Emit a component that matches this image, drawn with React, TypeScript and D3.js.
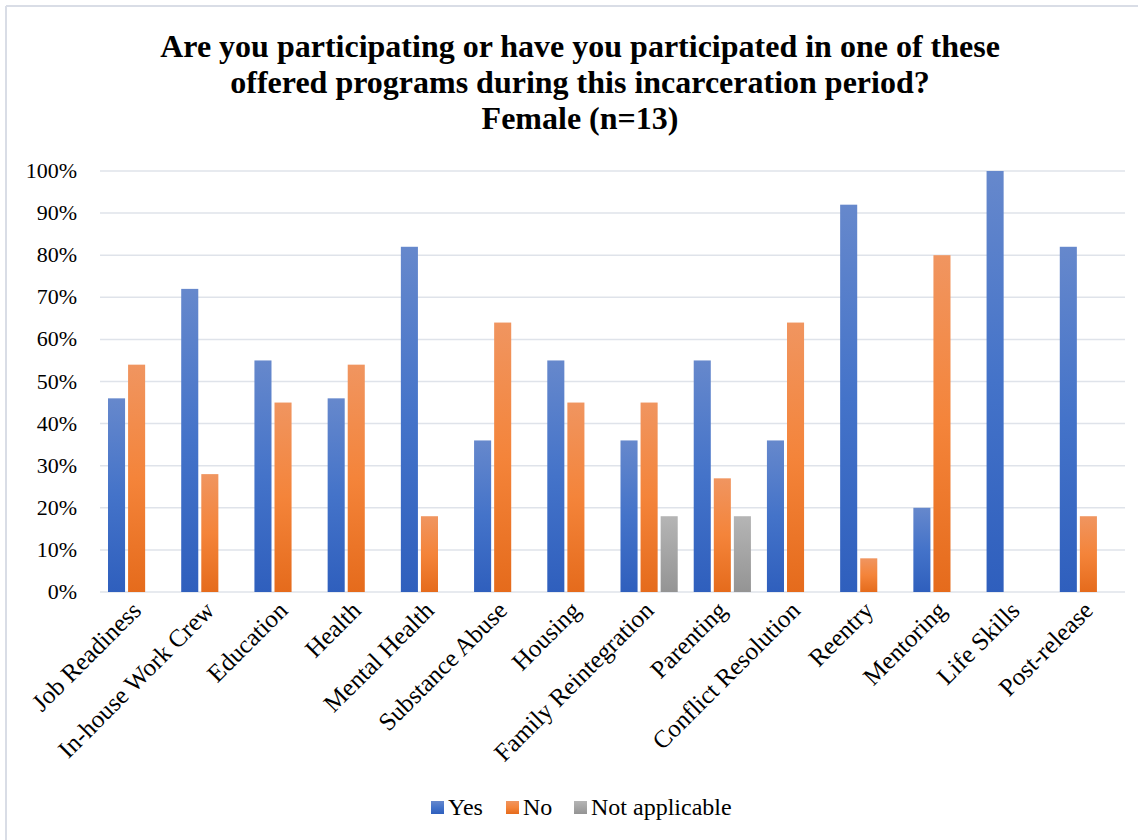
import React from "react";
import * as d3 from "d3";

const categories = [
  "Job Readiness",
  "In-house Work Crew",
  "Education",
  "Health",
  "Mental Health",
  "Substance Abuse",
  "Housing",
  "Family Reintegration",
  "Parenting",
  "Conflict Resolution",
  "Reentry",
  "Mentoring",
  "Life Skills",
  "Post-release",
];
const yesValues = [46, 72, 55, 46, 82, 36, 55, 36, 55, 36, 92, 20, 100, 82];
const noValues = [54, 28, 45, 54, 18, 64, 45, 45, 27, 64, 8, 80, 0, 18];
const naValues = [null, null, null, null, null, null, null, 18, 18, null, null, null, null, null];
const seriesNames = ["Yes", "No", "Not applicable"];
const yTicks = [0, 10, 20, 30, 40, 50, 60, 70, 80, 90, 100];
const titleLines = [
  "Are you participating or have you participated in one of these",
  "offered programs during this incarceration period?",
  "Female (n=13)",
];

const W = 1138;
const H = 840;
const plot = { left: 100, right: 1125, top: 171, bottom: 592 };
const font = "'Liberation Serif', 'Times New Roman', serif";

export default function App() {
  const x = d3
    .scaleBand<string>()
    .domain(categories)
    .range([plot.left, plot.right])
    .paddingInner(0)
    .paddingOuter(0);
  const inner = d3
    .scaleBand<string>()
    .domain(seriesNames)
    .range([8, x.bandwidth() - 8])
    .paddingInner(0.15);
  const y = d3.scaleLinear().domain([0, 100]).range([plot.bottom, plot.top]);
  const series = [yesValues, noValues, naValues];
  const grads = ["gBlue", "gOrange", "gGray"];

  return (
    <svg
      width={W}
      height={H}
      style={{ position: "absolute", left: 0, top: 0, background: "#fff" }}
      fontFamily={font}
    >
      <defs>
        <linearGradient id="gBlue" x1="0" y1="0" x2="0" y2="1">
          <stop offset="0%" stopColor="#6688cc" />
          <stop offset="50%" stopColor="#4473c9" />
          <stop offset="100%" stopColor="#2f5fbd" />
        </linearGradient>
        <linearGradient id="gOrange" x1="0" y1="0" x2="0" y2="1">
          <stop offset="0%" stopColor="#f09560" />
          <stop offset="50%" stopColor="#f4843a" />
          <stop offset="100%" stopColor="#e56b1c" />
        </linearGradient>
        <linearGradient id="gGray" x1="0" y1="0" x2="0" y2="1">
          <stop offset="0%" stopColor="#b5b5b5" />
          <stop offset="100%" stopColor="#949494" />
        </linearGradient>
      </defs>
      <rect x={0} y={0} width={W} height={H} fill="#fff" />
      <line x1={6} y1={6} x2={W} y2={6} stroke="#d9dde6" strokeWidth={2} />
      <line x1={6} y1={6} x2={6} y2={H} stroke="#d9dde6" strokeWidth={2} />

      {titleLines.map((t, i) => (
        <text
          key={i}
          x={580}
          y={57 + i * 36}
          textAnchor="middle"
          fontSize={32}
          fontWeight="bold"
          fill="#000"
        >
          {t}
        </text>
      ))}

      {yTicks.map((t) => (
        <g key={t}>
          <line
            x1={plot.left}
            x2={plot.right}
            y1={y(t)}
            y2={y(t)}
            stroke="#dfe3ea"
            strokeWidth={1.5}
          />
          <text x={77} y={y(t) + 7} textAnchor="end" fontSize={22} fill="#000">
            {t}%
          </text>
        </g>
      ))}

      {categories.map((c, ci) =>
        series.map((vals, si) => {
          const v = vals[ci];
          if (v == null || v === 0) return null;
          const bx = (x(c) as number) + (inner(seriesNames[si]) as number);
          return (
            <rect
              key={c + si}
              x={bx}
              y={y(v)}
              width={inner.bandwidth()}
              height={y(0) - y(v)}
              fill={`url(#${grads[si]})`}
            />
          );
        })
      )}

      {categories.map((c) => {
        const cx = (x(c) as number) + x.bandwidth() / 2 + 6;
        const cy = 612;
        return (
          <text
            key={c}
            transform={`translate(${cx},${cy}) rotate(-45)`}
            textAnchor="end"
            fontSize={25}
            fill="#000"
          >
            {c}
          </text>
        );
      })}

      {(() => {
        const items = [
          { name: seriesNames[0], g: "gBlue", x: 431 },
          { name: seriesNames[1], g: "gOrange", x: 506 },
          { name: seriesNames[2], g: "gGray", x: 574 },
        ];
        return items.map((it) => (
          <g key={it.name}>
            <rect x={it.x} y={801} width={13} height={13} fill={`url(#${it.g})`} />
            <text x={it.x + 17} y={815} fontSize={24} fill="#000">
              {it.name}
            </text>
          </g>
        ));
      })()}
    </svg>
  );
}
